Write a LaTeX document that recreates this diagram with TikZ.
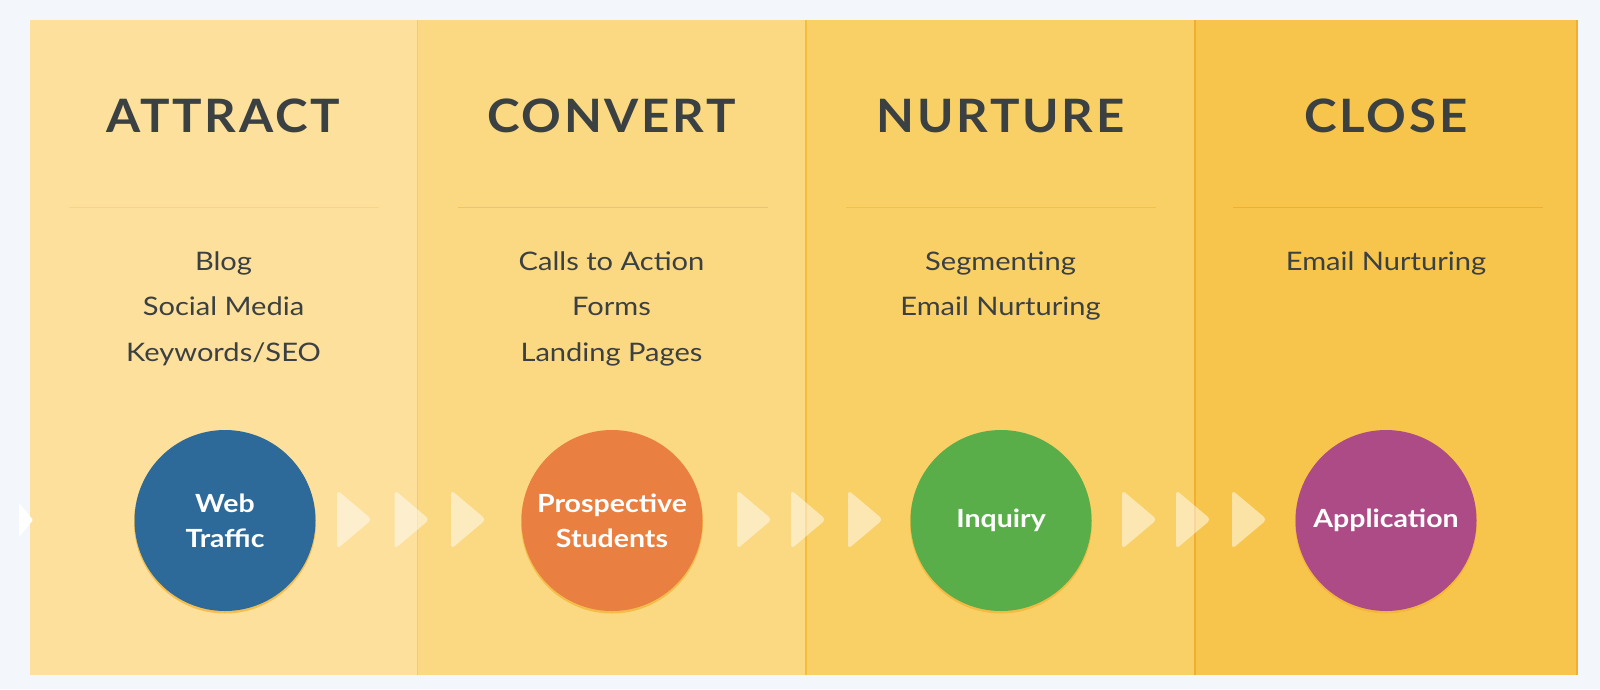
\documentclass[tikz,border=0pt]{standalone}
\usepackage{fontspec}
\setmainfont{Lato}[FakeStretch=1.14]
\newfontfamily\titlefont{Lato}[LetterSpace=6, FakeStretch=1.07]
\definecolor{bgc}{HTML}{F3F7FB}
\definecolor{colA}{HTML}{FCE09C}
\definecolor{colB}{HTML}{FBD882}
\definecolor{colC}{HTML}{F9D066}
\definecolor{colD}{HTML}{F7C54C}
\definecolor{sepc}{HTML}{F5BC3E}
\definecolor{ruleA}{HTML}{F7D48A}
\definecolor{ruleD}{HTML}{F2AE34}
\definecolor{txt}{HTML}{3B4042}
\definecolor{cblue}{HTML}{2E6A99}
\definecolor{corange}{HTML}{E97F41}
\definecolor{cgreen}{HTML}{59AE4A}
\definecolor{cpurple}{HTML}{AD4B86}
\definecolor{glow}{HTML}{F2B232}
\tikzset{
  title/.style={anchor=base, text=txt, font=\titlefont\bfseries\fontsize{46}{46}\selectfont, inner sep=0pt},
  item/.style={anchor=base, text=txt, font=\fontsize{25.5}{25.5}\selectfont, inner sep=0pt},
  stage/.style={circle, minimum size=181pt, inner sep=0pt, text=white, align=center,
    font=\bfseries\fontsize{25}{35}\selectfont},
  chevfill/.style={fill=white, fill opacity=0.5, rounded corners=4pt},
}
\begin{document}
\begin{tikzpicture}[x=1pt,y=-1pt]
\useasboundingbox (0,0) rectangle (1600,689);
\fill[bgc] (0,0) rectangle (1600,689);
% columns
\fill[colA] (30,20) rectangle (417,675);
\fill[colB] (417,20) rectangle (806,675);
\fill[colC] (806,20) rectangle (1195,675);
\fill[colD] (1195,20) rectangle (1577,675);
\draw[sepc!60!colA, line width=1pt] (417,20) -- (417,675);
\draw[sepc, line width=1.2pt] (806,20) -- (806,675);
\draw[ruleD, line width=1.2pt] (1195,20) -- (1195,675);
\draw[ruleD, line width=1.2pt] (1577,20) -- (1577,675);
% divider rules
\draw[ruleA, line width=1pt] (69,207) -- (379,207);
\draw[sepc!70!colB, line width=1pt] (458,207) -- (768,207);
\draw[sepc!80!colC, line width=1pt] (846,207) -- (1156,207);
\draw[ruleD, line width=1pt] (1233,207) -- (1543,207);
% titles
\node[title] (t1) at (223.5,132) {ATTRACT};
\node[title] (t2) at (611.5,132) {CONVERT};
\node[title] (t3) at (1000.5,132) {NURTURE};
\node[title] (t4) at (1386,132) {CLOSE};
% items
\node[item] (a1) at (223.5,270) {Blog};
\node[item] (a2) at (223.5,315.5) {Social Media};
\node[item] (a3) at (223.5,361) {Keywords/SEO};
\node[item] (b1) at (611.5,270) {Calls to Action};
\node[item] (b2) at (611.5,315.5) {Forms};
\node[item] (b3) at (611.5,361) {Landing Pages};
\node[item] (c1) at (1000.5,270) {Segmenting};
\node[item] (c2) at (1000.5,315.5) {Email Nurturing};
\node[item] (d1) at (1386,270) {Email Nurturing};
% entry arrow
\fill[white, rounded corners=1pt] (19,503) -- (33,520) -- (19,537) -- cycle;
% chevrons
\foreach \x in {337,394.5,451,737,791,848,1122,1176,1232}
  \fill[chevfill] (\x,490) -- (\x+35,519.5) -- (\x,549) -- cycle;
% circles
\foreach \cx/\nm in {225/p1,612/p2,1001/p3,1386/p4}
  \coordinate (\nm) at (\cx,520.5);
\foreach \nm in {p1,p2,p3,p4}
  \fill[glow, opacity=0.7] ([yshift=-2pt]\nm) circle (91pt);
\node[stage, fill=cblue] (s1) at (p1) {Web\\Traffic};
\node[stage, fill=corange] (s2) at (p2) {Prospective\\Students};
\node[stage, fill=cgreen] (s3) at (p3) {Inquiry};
\node[stage, fill=cpurple] (s4) at (p4) {Application};
\end{tikzpicture}
\end{document}
